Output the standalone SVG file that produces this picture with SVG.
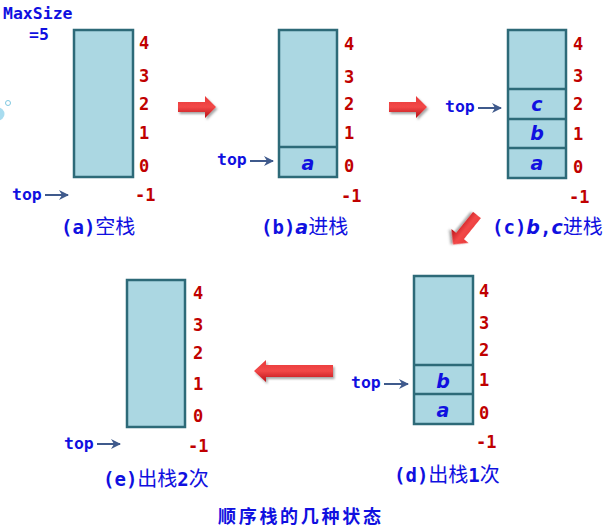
<svg xmlns="http://www.w3.org/2000/svg" width="610" height="532" viewBox="0 0 610 532">
<defs>
<linearGradient id="rg" x1="0" y1="0" x2="0" y2="1">
<stop offset="0" stop-color="#e83a3a"/>
<stop offset="0.5" stop-color="#f24848"/>
<stop offset="1" stop-color="#b80f16"/>
</linearGradient>
<filter id="sh" x="-20%" y="-40%" width="150%" height="190%">
<feDropShadow dx="1.5" dy="2" stdDeviation="1.2" flood-color="#000" flood-opacity="0.35"/>
</filter>
<marker id="ah" viewBox="0 0 10 10" refX="9" refY="5" markerWidth="5" markerHeight="5" orient="auto" markerUnits="strokeWidth">
<path d="M0,0 L10,5 L0,10 L3,5 Z" fill="#3f5a8c"/>
</marker>
<path id="rarrow" d="M0,-5 L27,-5 L27,-11 L38,0 L27,11 L27,5 L0,5 Z"/>
</defs>
<style>
.stack{fill:#abd7e2;stroke:#2d6a78;stroke-width:2.5}
.div{stroke:#2d6a78;stroke-width:2.5}
.num{font-family:"DejaVu Sans Mono","Liberation Mono",monospace;font-weight:bold;font-size:17px;fill:#c00000}
.lbl{font-family:"DejaVu Sans Mono","Liberation Mono",monospace;font-weight:bold;font-size:16.5px;fill:#1010e0}
.it{font-family:"DejaVu Sans","Liberation Sans",sans-serif;font-weight:bold;font-style:italic;font-size:19px;fill:#1010e0}
.cap{font-family:"DejaVu Sans Mono","Liberation Mono",monospace;font-weight:bold;font-size:19px;fill:#1010e0}
.cjk{font-family:"Noto Sans CJK SC",sans-serif;font-weight:normal;font-size:20px}
.itc{font-family:"DejaVu Sans","Liberation Sans",sans-serif;font-style:italic}
.ptr{stroke:#3f5a8c;stroke-width:2;fill:none;marker-end:url(#ah)}
.red{fill:url(#rg);filter:url(#sh)}
.title{font-family:"Noto Sans CJK SC",sans-serif;font-weight:bold;font-size:18px;letter-spacing:2.7px;fill:#1010e0}
</style>

<g id="deco">
<circle cx="-2" cy="114" r="6.5" fill="#a8dcef"/>
<circle cx="8" cy="103" r="2.5" fill="none" stroke="#7fc8e0" stroke-width="1"/>
</g>

<g id="maxsize">
<text class="lbl" x="3" y="19">MaxSize</text>
<text class="lbl" x="29" y="40">=5</text>
</g>

<g id="stackA">
<rect class="stack" x="74" y="30" width="59" height="147"/>
<text class="num" x="139" y="49">4</text>
<text class="num" x="139" y="82">3</text>
<text class="num" x="139" y="110">2</text>
<text class="num" x="139" y="139">1</text>
<text class="num" x="139" y="172">0</text>
<text class="num" x="135" y="201">-1</text>
<text class="lbl" x="12" y="200">top</text>
<text class="cap" x="61" y="234">(a)<tspan class="cjk">空栈</tspan></text>
</g>

<g id="stackB">
<rect class="stack" x="279" y="30" width="58" height="147"/>
<line class="div" x1="279" y1="147" x2="337" y2="147"/>
<text class="it" x="308" y="170" text-anchor="middle">a</text>
<text class="num" x="344" y="50">4</text>
<text class="num" x="344" y="83">3</text>
<text class="num" x="344" y="110">2</text>
<text class="num" x="344" y="139">1</text>
<text class="num" x="344" y="172">0</text>
<text class="num" x="341" y="202">-1</text>
<text class="lbl" x="217" y="165">top</text>
<text class="cap" x="261" y="234">(b)<tspan class="itc">a</tspan><tspan class="cjk">进栈</tspan></text>
</g>

<g id="stackC">
<rect class="stack" x="508" y="30" width="58" height="148"/>
<line class="div" x1="508" y1="89" x2="566" y2="89" stroke-width="3"/>
<line class="div" x1="508" y1="119" x2="566" y2="119" stroke-width="3"/>
<line class="div" x1="508" y1="148" x2="566" y2="148" stroke-width="3"/>
<text class="it" x="537" y="111" text-anchor="middle">c</text>
<text class="it" x="537" y="140" text-anchor="middle">b</text>
<text class="it" x="537" y="170" text-anchor="middle">a</text>
<text class="num" x="573" y="50">4</text>
<text class="num" x="573" y="82">3</text>
<text class="num" x="573" y="110">2</text>
<text class="num" x="573" y="140">1</text>
<text class="num" x="573" y="173">0</text>
<text class="num" x="569" y="203">-1</text>
<text class="lbl" x="445" y="112">top</text>
<text class="cap" x="492" y="234">(c)<tspan class="itc">b</tspan>,<tspan class="itc">c</tspan><tspan class="cjk">进栈</tspan></text>
</g>

<g id="stackD">
<rect class="stack" x="414" y="276" width="59" height="148"/>
<line class="div" x1="414" y1="365" x2="473" y2="365"/>
<line class="div" x1="414" y1="394" x2="473" y2="394"/>
<text class="it" x="443" y="388" text-anchor="middle">b</text>
<text class="it" x="443" y="417" text-anchor="middle">a</text>
<text class="num" x="479" y="297">4</text>
<text class="num" x="479" y="329">3</text>
<text class="num" x="479" y="356">2</text>
<text class="num" x="479" y="386">1</text>
<text class="num" x="479" y="419">0</text>
<text class="num" x="476" y="448">-1</text>
<text class="lbl" x="351" y="388">top</text>
<text class="cap" x="394" y="482">(d)<tspan class="cjk">出栈</tspan>1<tspan class="cjk">次</tspan></text>
</g>

<g id="stackE">
<rect class="stack" x="127" y="280" width="58" height="147"/>
<text class="num" x="193" y="299">4</text>
<text class="num" x="193" y="331">3</text>
<text class="num" x="193" y="359">2</text>
<text class="num" x="193" y="390">1</text>
<text class="num" x="193" y="422">0</text>
<text class="num" x="188" y="452">-1</text>
<text class="lbl" x="64" y="449">top</text>
<text class="cap" x="103" y="486">(e)<tspan class="cjk">出栈</tspan>2<tspan class="cjk">次</tspan></text>
</g>

<g id="connectors">
<line class="ptr" x1="45" y1="195" x2="68" y2="195"/>
<line class="ptr" x1="250" y1="161" x2="273" y2="161"/>
<line class="ptr" x1="478" y1="108" x2="501" y2="108"/>
<line class="ptr" x1="384" y1="384" x2="408" y2="384"/>
<line class="ptr" x1="97" y1="444" x2="120" y2="444"/>
<use href="#rarrow" class="red" transform="translate(178,107)"/>
<use href="#rarrow" class="red" transform="translate(389,107)"/>
<use href="#rarrow" class="red" transform="translate(477,215) rotate(129)"/>
<path class="red" d="M333,365 L266,365 L266,360 L254,371 L266,382 L266,377 L333,377 Z"/>
</g>

<text class="title" x="218" y="523">顺序栈的几种状态</text>
</svg>
